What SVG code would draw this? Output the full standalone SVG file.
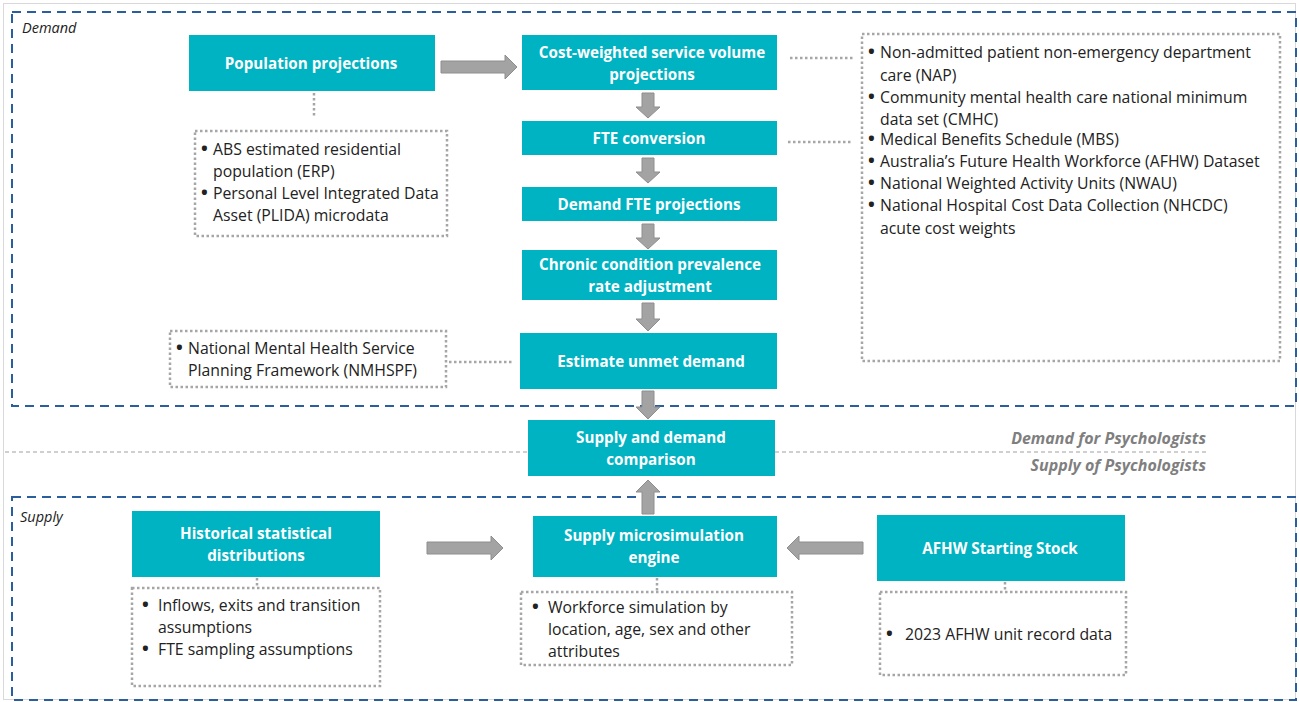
<svg xmlns="http://www.w3.org/2000/svg" width="1299" height="702" viewBox="0 0 1299 702">
<style>
.node{fill:#00B3C2}
.nt{font-family:"Open Sans","Liberation Sans",sans-serif;font-weight:bold;font-size:15.2px;fill:#fff;text-anchor:middle}
.note{fill:#fff;stroke:#A6A6A6;stroke-width:2.5;stroke-dasharray:2.5 2.5}
.tx{font-family:"Open Sans","Liberation Sans",sans-serif;font-size:15.8px;fill:#222}
.b{font-size:18px;font-weight:bold}
.sec{fill:none;stroke:#2A5E9C;stroke-width:2;stroke-dasharray:9 6}
.dot{stroke:#A6A6A6;stroke-width:2.5;stroke-dasharray:2.5 2.5;fill:none}
.arr{fill:#A3A3A3;stroke:#8E8E8E;stroke-width:1}
.lab{font-family:"Open Sans","Liberation Sans",sans-serif;font-style:italic;font-size:14.5px;fill:#222}
.psy{font-family:"Open Sans","Liberation Sans",sans-serif;font-style:italic;font-weight:bold;font-size:16px;fill:#7F7F7F;text-anchor:end}
</style>
<rect width="1299" height="702" fill="#fff"/>
<rect x="3.5" y="3.5" width="1292" height="696" fill="none" stroke="#D9D9D9" stroke-width="1"/>
<g id="sections">
<rect class="sec" x="12" y="12" width="1284" height="394"/>
<rect class="sec" x="12" y="497" width="1284" height="203"/>
<line x1="5" y1="452" x2="1207" y2="452" stroke="#A0A0A0" stroke-width="1" stroke-dasharray="4 3"/>
<text class="lab" x="22" y="33">Demand</text>
<text class="lab" x="20" y="522">Supply</text>
<text class="psy" x="1206" y="444">Demand for Psychologists</text>
<text class="psy" x="1206" y="471">Supply of Psychologists</text>
</g>
<g id="connectors">
<path class="dot" d="M314 93V118"/>
<path class="dot" d="M790 58H853"/>
<path class="dot" d="M788 142H853"/>
<path class="dot" d="M449 362H513"/>
<path class="dot" d="M257 578V590"/>
<path class="dot" d="M657 578V593"/>
<path class="dot" d="M1005 582V596"/>
<path class="arr" d="M441 61H505V55L517 67L505 79V73H441Z"/>
<path class="arr" d="M642 93H654V107H660L648 118L636 107H642Z"/>
<path class="arr" d="M642 158H654V172H660L648 183L636 172H642Z"/>
<path class="arr" d="M642 224H654V238H660L648 249L636 238H642Z"/>
<path class="arr" d="M642 303H654V319H660L648 331L636 319H642Z"/>
<path class="arr" d="M642 391H654V407H660L648 419L636 407H642Z"/>
<path class="arr" d="M642 514H654V492H660L648 480L636 492H642Z"/>
<path class="arr" d="M427 542H491V536L503 548L491 560V554H427Z"/>
<path class="arr" d="M863 542H799V536L787 548L799 560V554H863Z"/>
</g>
<g id="pop"><rect class="node" x="189" y="35" width="246" height="56"/><text class="nt" x="311" y="69">Population projections</text></g>
<g id="cost"><rect class="node" x="522" y="35" width="255" height="55"/><text class="nt" x="652" y="58">Cost-weighted service volume</text><text class="nt" x="652" y="80">projections</text></g>
<g id="fte"><rect class="node" x="522" y="121" width="255" height="34"/><text class="nt" x="649" y="144">FTE conversion</text></g>
<g id="dfte"><rect class="node" x="522" y="187" width="255" height="34"/><text class="nt" x="649" y="210">Demand FTE projections</text></g>
<g id="chronic"><rect class="node" x="522" y="250" width="255" height="50"/><text class="nt" x="650" y="270">Chronic condition prevalence</text><text class="nt" x="650" y="292">rate adjustment</text></g>
<g id="unmet"><rect class="node" x="520" y="333" width="257" height="56"/><text class="nt" x="651" y="367">Estimate unmet demand</text></g>
<g id="compare"><rect class="node" x="528" y="420" width="247" height="56"/><text class="nt" x="651" y="443">Supply and demand</text><text class="nt" x="651" y="465">comparison</text></g>
<g id="hist"><rect class="node" x="132" y="511" width="248" height="66"/><text class="nt" x="256" y="539">Historical statistical</text><text class="nt" x="256" y="561">distributions</text></g>
<g id="micro"><rect class="node" x="533" y="516" width="244" height="61"/><text class="nt" x="654" y="541">Supply microsimulation</text><text class="nt" x="654" y="563">engine</text></g>
<g id="afhw"><rect class="node" x="877" y="515" width="248" height="66"/><text class="nt" x="1000" y="554">AFHW Starting Stock</text></g>
<g id="n-abs"><rect class="note" x="195" y="131" width="252" height="105"/>
<text class="tx"><tspan class="b" x="201" y="155">•</tspan><tspan x="213" y="155">ABS estimated residential</tspan><tspan x="213" y="177">population (ERP)</tspan><tspan class="b" x="201" y="199">•</tspan><tspan x="213" y="199">Personal Level Integrated Data</tspan><tspan x="213" y="221">Asset (PLIDA) microdata</tspan></text></g>
<g id="n-list"><rect class="note" x="862" y="34" width="418" height="327"/>
<text class="tx"><tspan class="b" x="868" y="58">•</tspan><tspan x="880" y="58">Non-admitted patient non-emergency department</tspan><tspan x="880" y="81">care (NAP)</tspan><tspan class="b" x="868" y="103">•</tspan><tspan x="880" y="103">Community mental health care national minimum</tspan><tspan x="880" y="125">data set (CMHC)</tspan><tspan class="b" x="868" y="145">•</tspan><tspan x="880" y="145">Medical Benefits Schedule (MBS)</tspan><tspan class="b" x="868" y="167">•</tspan><tspan x="880" y="167">Australia’s Future Health Workforce (AFHW) Dataset</tspan><tspan class="b" x="868" y="189">•</tspan><tspan x="880" y="189">National Weighted Activity Units (NWAU)</tspan><tspan class="b" x="868" y="211">•</tspan><tspan x="880" y="211">National Hospital Cost Data Collection (NHCDC)</tspan><tspan x="880" y="234">acute cost weights</tspan></text></g>
<g id="n-nmh"><rect class="note" x="170" y="331" width="276" height="56"/>
<text class="tx"><tspan class="b" x="176" y="354">•</tspan><tspan x="188" y="354">National Mental Health Service</tspan><tspan x="188" y="376">Planning Framework (NMHSPF)</tspan></text></g>
<g id="n-inflow"><rect class="note" x="132" y="588" width="248" height="98"/>
<text class="tx"><tspan class="b" x="142" y="611">•</tspan><tspan x="158" y="611">Inflows, exits and transition</tspan><tspan x="158" y="633">assumptions</tspan><tspan class="b" x="142" y="655">•</tspan><tspan x="158" y="655">FTE sampling assumptions</tspan></text></g>
<g id="n-work"><rect class="note" x="521" y="592" width="271" height="73"/>
<text class="tx"><tspan class="b" x="532" y="613">•</tspan><tspan x="548" y="613">Workforce simulation by</tspan><tspan x="548" y="635">location, age, sex and other</tspan><tspan x="548" y="657">attributes</tspan></text></g>
<g id="n-2023"><rect class="note" x="880" y="592" width="246" height="83"/>
<text class="tx"><tspan class="b" x="886" y="640">•</tspan><tspan x="905" y="640">2023 AFHW unit record data</tspan></text></g>
</svg>
